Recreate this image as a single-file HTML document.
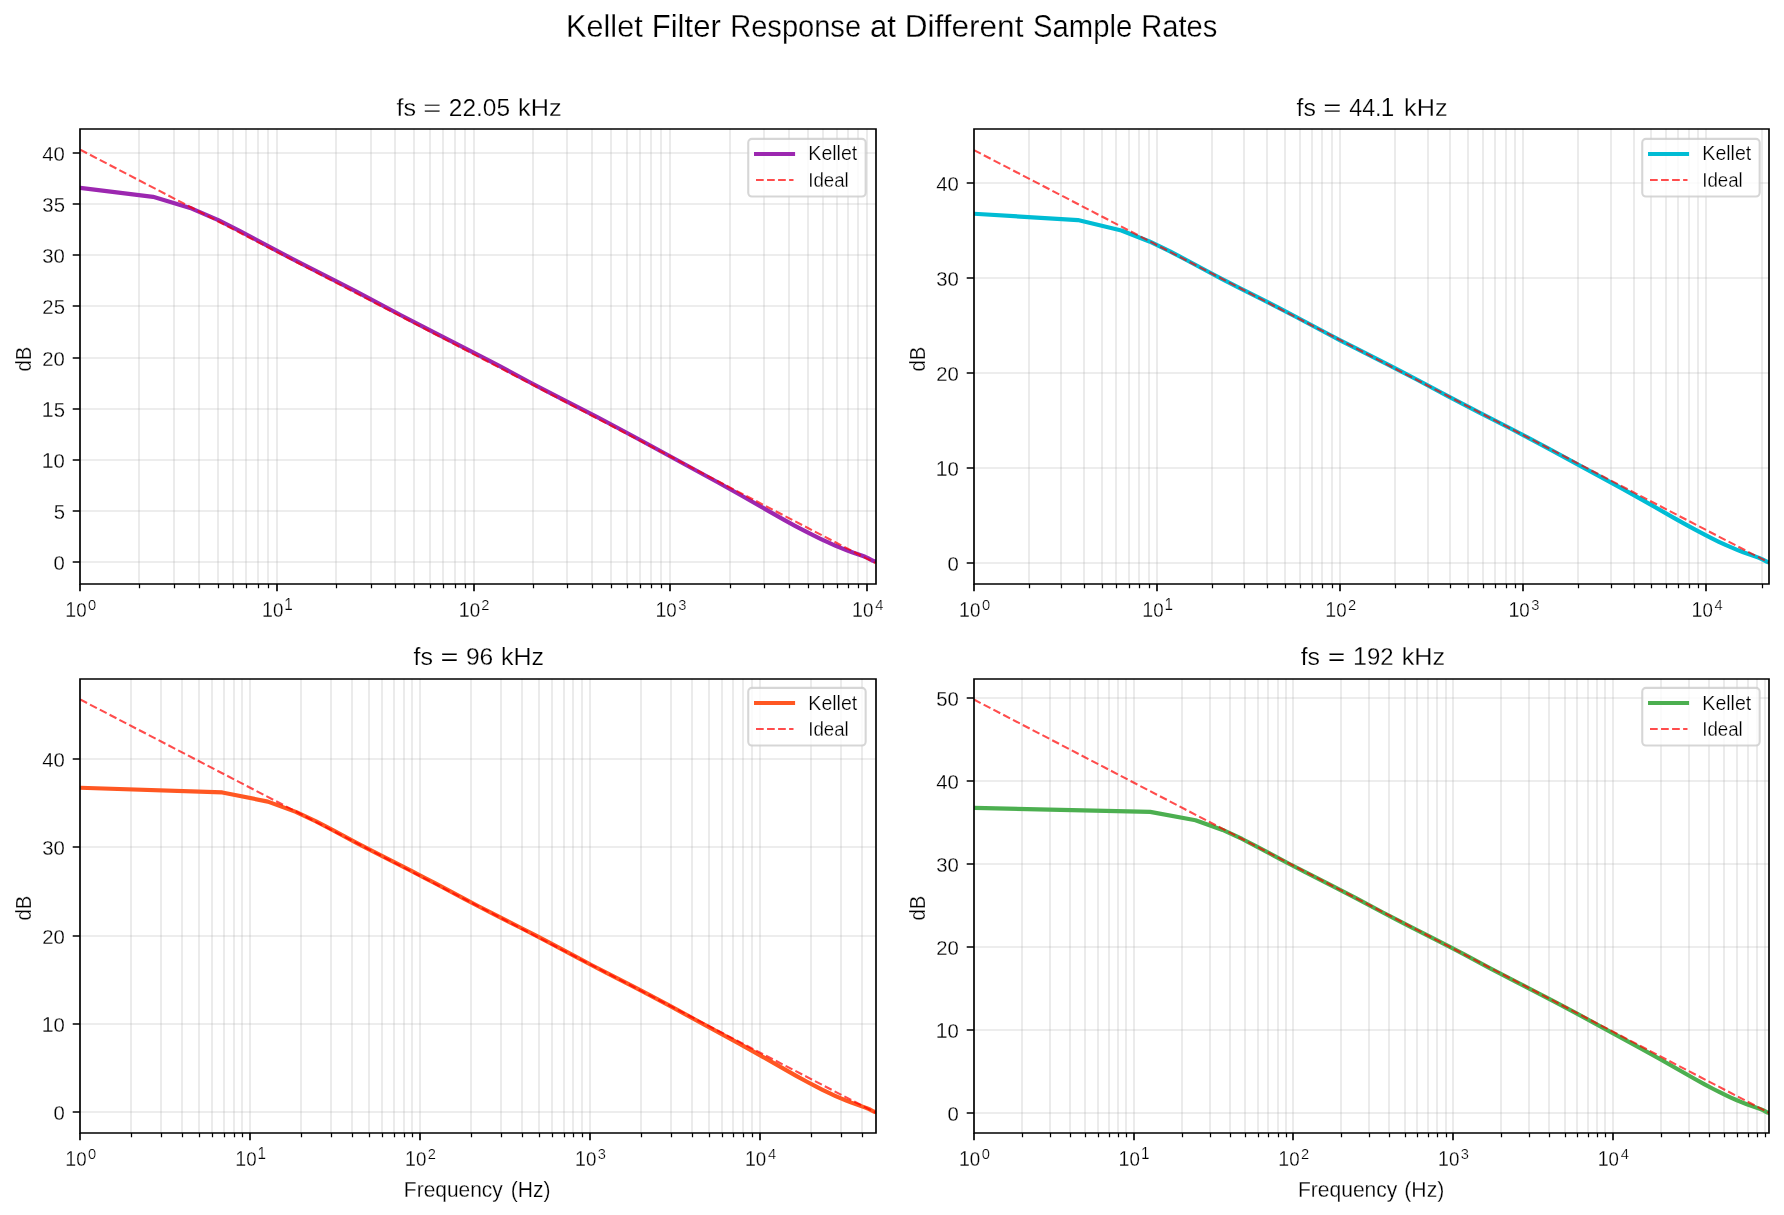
<!DOCTYPE html><html><head><meta charset="utf-8"><title>Kellet Filter Response at Different Sample Rates</title><style>html,body{margin:0;padding:0;background:#fff;overflow:hidden}svg{display:block;will-change:transform}text{font-family:"Liberation Sans",sans-serif}</style></head><body>
<svg width="1784" height="1215" viewBox="0 0 1784 1215">
<rect width="1784" height="1215" fill="#fff"/>
<g transform="translate(566.074 36.900) scale(1.00073 1)" fill="#000" stroke="#fff" stroke-width="0.25"><text x="0.000" y="0" font-size="30.600">Kellet</text></g><g transform="translate(651.738 36.900) scale(1.01499 1)" fill="#000" stroke="#fff" stroke-width="0.25"><text x="0.000" y="0" font-size="30.600">Filter</text></g><g transform="translate(730.201 36.900) scale(0.95034 1)" fill="#000" stroke="#fff" stroke-width="0.25"><text x="0.000" y="0" font-size="30.600">Response</text></g><g transform="translate(869.975 36.900) scale(1.01902 1)" fill="#000" stroke="#fff" stroke-width="0.25"><text x="0.000" y="0" font-size="30.600">at</text></g><g transform="translate(904.695 36.900) scale(1.03204 1)" fill="#000" stroke="#fff" stroke-width="0.25"><text x="0.000" y="0" font-size="30.600">Different</text></g><g transform="translate(1032.982 36.900) scale(0.95689 1)" fill="#000" stroke="#fff" stroke-width="0.25"><text x="0.000" y="0" font-size="30.600">Sample</text></g><g transform="translate(1141.296 36.900) scale(0.95223 1)" fill="#000" stroke="#fff" stroke-width="0.25"><text x="0.000" y="0" font-size="30.600">Rates</text></g>
<defs><clipPath id="c0"><rect x="80" y="129" width="796" height="455"/></clipPath></defs>
<g stroke="#b0b0b0" stroke-opacity="0.3" stroke-width="1.67" fill="none"><path d="M139 129 V584"/><path d="M174 129 V584"/><path d="M199 129 V584"/><path d="M218 129 V584"/><path d="M233 129 V584"/><path d="M246 129 V584"/><path d="M258 129 V584"/><path d="M268 129 V584"/><path d="M336 129 V584"/><path d="M371 129 V584"/><path d="M395 129 V584"/><path d="M414 129 V584"/><path d="M430 129 V584"/><path d="M443 129 V584"/><path d="M455 129 V584"/><path d="M465 129 V584"/><path d="M533 129 V584"/><path d="M567 129 V584"/><path d="M592 129 V584"/><path d="M611 129 V584"/><path d="M627 129 V584"/><path d="M640 129 V584"/><path d="M651 129 V584"/><path d="M661 129 V584"/><path d="M730 129 V584"/><path d="M764 129 V584"/><path d="M789 129 V584"/><path d="M808 129 V584"/><path d="M823 129 V584"/><path d="M837 129 V584"/><path d="M848 129 V584"/><path d="M858 129 V584"/><path d="M80 129 V584"/><path d="M277 129 V584"/><path d="M474 129 V584"/><path d="M670 129 V584"/><path d="M867 129 V584"/><path d="M80 562 H876"/><path d="M80 511 H876"/><path d="M80 460 H876"/><path d="M80 409 H876"/><path d="M80 358 H876"/><path d="M80 306 H876"/><path d="M80 255 H876"/><path d="M80 204 H876"/><path d="M80 153 H876"/></g>
<g clip-path="url(#c0)"><path d="M80.20 187.87 L153.04 196.83 L191.77 208.56 L218.33 220.11 L238.55 230.32 L268.61 246.37 L280.42 252.64 L290.80 258.06 L308.40 267.08 L335.44 280.78 L355.94 291.37 L368.63 298.05 L400.95 315.26 L417.97 324.20 L434.01 332.44 L468.19 349.79 L482.79 357.32 L498.75 365.71 L531.15 382.99 L546.65 391.17 L562.66 399.47 L597.73 417.47 L616.92 427.51 L638.78 439.26 L718.14 482.48 L740.03 494.70 L772.25 513.11 L783.23 519.32 L794.98 525.80 L805.59 531.43 L813.45 535.44 L820.97 539.11 L828.18 542.48 L835.10 545.54 L841.33 548.13 L847.38 550.49 L852.77 552.45 L861.61 555.51 L864.39 556.54 L866.26 557.31 L867.94 558.10 L873.03 560.79 L874.24 561.21 L875.34 561.35" fill="none" stroke="#9c27b0" stroke-width="4.17" stroke-linejoin="round" stroke-linecap="square"/>
<path d="M80.20 149.70 L875.34 563.03" fill="none" stroke="#f00" stroke-opacity="0.7" stroke-width="2.08" stroke-dasharray="7.71 3.33"/></g>
<path d="M80 129 H876 V584 H80 Z" stroke="#000" stroke-width="1.67" fill="none"/>
<path d="M80 562 H72.71 M80 511 H72.71 M80 460 H72.71 M80 409 H72.71 M80 358 H72.71 M80 306 H72.71 M80 255 H72.71 M80 204 H72.71 M80 153 H72.71 M80 584 V591.29 M277 584 V591.29 M474 584 V591.29 M670 584 V591.29 M867 584 V591.29" stroke="#000" stroke-width="1.67"/>
<path d="M139.5 584 V588.17 M174.5 584 V588.17 M199.5 584 V588.17 M218.5 584 V588.17 M233.5 584 V588.17 M246.5 584 V588.17 M258.5 584 V588.17 M268.5 584 V588.17 M336.5 584 V588.17 M371.5 584 V588.17 M395.5 584 V588.17 M414.5 584 V588.17 M430.5 584 V588.17 M443.5 584 V588.17 M455.5 584 V588.17 M465.5 584 V588.17 M533.5 584 V588.17 M567.5 584 V588.17 M592.5 584 V588.17 M611.5 584 V588.17 M627.5 584 V588.17 M640.5 584 V588.17 M651.5 584 V588.17 M661.5 584 V588.17 M730.5 584 V588.17 M764.5 584 V588.17 M789.5 584 V588.17 M808.5 584 V588.17 M823.5 584 V588.17 M837.5 584 V588.17 M848.5 584 V588.17 M858.5 584 V588.17" stroke="#000" stroke-width="1.25"/>
<g transform="translate(53.590 569.850) scale(0.97500 1)" fill="#000" stroke="#fff" stroke-width="0.25"><text x="0.000" y="0" font-size="20.830">0</text></g>
<g transform="translate(53.641 518.850) scale(0.97500 1)" fill="#000" stroke="#fff" stroke-width="0.25"><text x="0.000" y="0" font-size="20.830">5</text></g>
<g transform="translate(42.318 467.850) scale(0.97500 1)" fill="#000" stroke="#fff" stroke-width="0.25"><text x="-0.597" y="0" font-size="21.780" font-family="Liberation Mono, monospace">1</text><text x="11.585" y="0" font-size="20.830">0</text></g>
<g transform="translate(42.369 416.850) scale(0.97500 1)" fill="#000" stroke="#fff" stroke-width="0.25"><text x="-0.597" y="0" font-size="21.780" font-family="Liberation Mono, monospace">1</text><text x="11.585" y="0" font-size="20.830">5</text></g>
<g transform="translate(42.318 365.850) scale(0.97500 1)" fill="#000" stroke="#fff" stroke-width="0.25"><text x="0.000" y="0" font-size="20.830">20</text></g>
<g transform="translate(42.369 313.850) scale(0.97500 1)" fill="#000" stroke="#fff" stroke-width="0.25"><text x="0.000" y="0" font-size="20.830">25</text></g>
<g transform="translate(42.318 262.850) scale(0.97500 1)" fill="#000" stroke="#fff" stroke-width="0.25"><text x="0.000" y="0" font-size="20.830">30</text></g>
<g transform="translate(42.369 211.850) scale(0.97500 1)" fill="#000" stroke="#fff" stroke-width="0.25"><text x="0.000" y="0" font-size="20.830">35</text></g>
<g transform="translate(42.318 160.850) scale(0.97500 1)" fill="#000" stroke="#fff" stroke-width="0.25"><text x="0.000" y="0" font-size="20.830">40</text></g>
<g transform="translate(65.810 616.900) scale(0.89927 1)" fill="#000" stroke="#fff" stroke-width="0.25"><text x="-0.597" y="0" font-size="21.780" font-family="Liberation Mono, monospace">1</text><text x="11.585" y="0" font-size="20.830">0</text></g>
<g transform="translate(88.112 609.800) scale(0.97000 1)" fill="#000" stroke="#fff" stroke-width="0.25"><text x="0.000" y="0" font-size="15.162">0</text></g>
<g transform="translate(262.510 616.900) scale(0.89927 1)" fill="#000" stroke="#fff" stroke-width="0.25"><text x="-0.597" y="0" font-size="21.780" font-family="Liberation Mono, monospace">1</text><text x="11.585" y="0" font-size="20.830">0</text></g>
<g transform="translate(284.701 609.800) scale(0.97000 1)" fill="#000" stroke="#fff" stroke-width="0.25"><text x="-0.435" y="0" font-size="15.854" font-family="Liberation Mono, monospace">1</text></g>
<g transform="translate(459.210 616.900) scale(0.89927 1)" fill="#000" stroke="#fff" stroke-width="0.25"><text x="-0.597" y="0" font-size="21.780" font-family="Liberation Mono, monospace">1</text><text x="11.585" y="0" font-size="20.830">0</text></g>
<g transform="translate(481.365 609.800) scale(0.97000 1)" fill="#000" stroke="#fff" stroke-width="0.25"><text x="0.000" y="0" font-size="15.162">2</text></g>
<g transform="translate(655.910 616.900) scale(0.89927 1)" fill="#000" stroke="#fff" stroke-width="0.25"><text x="-0.597" y="0" font-size="21.780" font-family="Liberation Mono, monospace">1</text><text x="11.585" y="0" font-size="20.830">0</text></g>
<g transform="translate(678.248 609.800) scale(0.97000 1)" fill="#000" stroke="#fff" stroke-width="0.25"><text x="0.000" y="0" font-size="15.162">3</text></g>
<g transform="translate(852.610 616.900) scale(0.89927 1)" fill="#000" stroke="#fff" stroke-width="0.25"><text x="-0.597" y="0" font-size="21.780" font-family="Liberation Mono, monospace">1</text><text x="11.585" y="0" font-size="20.830">0</text></g>
<g transform="translate(875.169 609.800) scale(0.97000 1)" fill="#000" stroke="#fff" stroke-width="0.25"><text x="0.000" y="0" font-size="15.162">4</text></g>
<g transform="translate(396.523 116.000) scale(1.02255 1)" fill="#000" stroke="#fff" stroke-width="0.25"><text x="0.000" y="0" font-size="24.600">fs</text></g><g transform="translate(423.329 116.000) scale(1.25912 1)" fill="#000" stroke="#fff" stroke-width="0.25"><text x="0.000" y="0" font-size="24.600">=</text></g><g transform="translate(448.775 116.000) scale(0.99583 1)" fill="#000" stroke="#fff" stroke-width="0.25"><text x="0.000" y="0" font-size="24.600">22.05</text></g><g transform="translate(517.993 116.000) scale(1.02829 1)" fill="#000" stroke="#fff" stroke-width="0.25"><text x="0.000" y="0" font-size="24.600">kHz</text></g>
<g transform="translate(31.000 371.563) rotate(-90) scale(0.92320 1)" fill="#000" stroke="#fff" stroke-width="0.25"><text x="0.000" y="0" font-size="22.000">dB</text></g>
<rect x="748.25" y="138.90" width="117.40" height="57.65" rx="3.7" fill="#fff" fill-opacity="0.8" stroke="#ccc" stroke-opacity="0.8" stroke-width="2.08"/>
<path d="M756.10 154.00 H793.00" stroke="#9c27b0" stroke-width="4.17" stroke-linecap="square"/>
<path d="M756.00 180.00 H793.50" stroke="#f00" stroke-opacity="0.7" stroke-width="2.08" stroke-dasharray="7.71 3.33"/>
<g transform="translate(808.346 159.900) scale(1.01348 1)" fill="#000" stroke="#fff" stroke-width="0.25"><text x="0.000" y="0" font-size="19.300">Kellet</text></g>
<g transform="translate(808.232 186.850) scale(0.96770 1)" fill="#000" stroke="#fff" stroke-width="0.25"><text x="0.000" y="0" font-size="19.300">Ideal</text></g>
<defs><clipPath id="c1"><rect x="974" y="129" width="795" height="455"/></clipPath></defs>
<g stroke="#b0b0b0" stroke-opacity="0.3" stroke-width="1.67" fill="none"><path d="M1029 129 V584"/><path d="M1061 129 V584"/><path d="M1084 129 V584"/><path d="M1102 129 V584"/><path d="M1116 129 V584"/><path d="M1129 129 V584"/><path d="M1139 129 V584"/><path d="M1149 129 V584"/><path d="M1212 129 V584"/><path d="M1244 129 V584"/><path d="M1267 129 V584"/><path d="M1285 129 V584"/><path d="M1300 129 V584"/><path d="M1312 129 V584"/><path d="M1322 129 V584"/><path d="M1332 129 V584"/><path d="M1395 129 V584"/><path d="M1428 129 V584"/><path d="M1450 129 V584"/><path d="M1468 129 V584"/><path d="M1483 129 V584"/><path d="M1495 129 V584"/><path d="M1506 129 V584"/><path d="M1515 129 V584"/><path d="M1578 129 V584"/><path d="M1611 129 V584"/><path d="M1634 129 V584"/><path d="M1651 129 V584"/><path d="M1666 129 V584"/><path d="M1678 129 V584"/><path d="M1689 129 V584"/><path d="M1698 129 V584"/><path d="M1762 129 V584"/><path d="M974 129 V584"/><path d="M1157 129 V584"/><path d="M1340 129 V584"/><path d="M1523 129 V584"/><path d="M1706 129 V584"/><path d="M974 563 H1769"/><path d="M974 468 H1769"/><path d="M974 373 H1769"/><path d="M974 278 H1769"/><path d="M974 183 H1769"/></g>
<g clip-path="url(#c1)"><path d="M974.00 213.72 L1077.86 220.07 L1121.41 230.44 L1149.39 241.44 L1170.04 251.43 L1186.42 260.02 L1211.59 273.47 L1221.71 278.78 L1238.74 287.53 L1264.68 300.65 L1279.76 308.37 L1296.24 316.99 L1326.76 333.22 L1340.67 340.53 L1356.10 348.47 L1387.54 364.39 L1402.55 372.10 L1417.64 380.00 L1449.24 396.82 L1463.61 404.39 L1478.46 412.07 L1510.53 428.49 L1527.45 437.32 L1548.56 448.63 L1622.62 488.89 L1643.17 500.34 L1673.41 517.58 L1683.67 523.37 L1694.69 529.44 L1704.64 534.70 L1711.89 538.38 L1718.85 541.78 L1725.51 544.88 L1731.92 547.70 L1737.68 550.09 L1743.28 552.27 L1759.08 557.88 L1762.39 559.32 L1767.14 561.83 L1768.26 562.22 L1769.28 562.35" fill="none" stroke="#00bcd4" stroke-width="4.17" stroke-linejoin="round" stroke-linecap="square"/>
<path d="M974.00 150.14 L1769.28 562.76" fill="none" stroke="#f00" stroke-opacity="0.7" stroke-width="2.08" stroke-dasharray="7.71 3.33"/></g>
<path d="M974 129 H1769 V584 H974 Z" stroke="#000" stroke-width="1.67" fill="none"/>
<path d="M974 563 H966.71 M974 468 H966.71 M974 373 H966.71 M974 278 H966.71 M974 183 H966.71 M974 584 V591.29 M1157 584 V591.29 M1340 584 V591.29 M1523 584 V591.29 M1706 584 V591.29" stroke="#000" stroke-width="1.67"/>
<path d="M1029.5 584 V588.17 M1061.5 584 V588.17 M1084.5 584 V588.17 M1102.5 584 V588.17 M1116.5 584 V588.17 M1129.5 584 V588.17 M1139.5 584 V588.17 M1149.5 584 V588.17 M1212.5 584 V588.17 M1244.5 584 V588.17 M1267.5 584 V588.17 M1285.5 584 V588.17 M1300.5 584 V588.17 M1312.5 584 V588.17 M1322.5 584 V588.17 M1332.5 584 V588.17 M1395.5 584 V588.17 M1428.5 584 V588.17 M1450.5 584 V588.17 M1468.5 584 V588.17 M1483.5 584 V588.17 M1495.5 584 V588.17 M1506.5 584 V588.17 M1515.5 584 V588.17 M1578.5 584 V588.17 M1611.5 584 V588.17 M1634.5 584 V588.17 M1651.5 584 V588.17 M1666.5 584 V588.17 M1678.5 584 V588.17 M1689.5 584 V588.17 M1698.5 584 V588.17 M1762.5 584 V588.17" stroke="#000" stroke-width="1.25"/>
<g transform="translate(947.590 570.850) scale(0.97500 1)" fill="#000" stroke="#fff" stroke-width="0.25"><text x="0.000" y="0" font-size="20.830">0</text></g>
<g transform="translate(936.318 475.850) scale(0.97500 1)" fill="#000" stroke="#fff" stroke-width="0.25"><text x="-0.597" y="0" font-size="21.780" font-family="Liberation Mono, monospace">1</text><text x="11.585" y="0" font-size="20.830">0</text></g>
<g transform="translate(936.318 380.850) scale(0.97500 1)" fill="#000" stroke="#fff" stroke-width="0.25"><text x="0.000" y="0" font-size="20.830">20</text></g>
<g transform="translate(936.318 285.850) scale(0.97500 1)" fill="#000" stroke="#fff" stroke-width="0.25"><text x="0.000" y="0" font-size="20.830">30</text></g>
<g transform="translate(936.318 190.850) scale(0.97500 1)" fill="#000" stroke="#fff" stroke-width="0.25"><text x="0.000" y="0" font-size="20.830">40</text></g>
<g transform="translate(959.610 616.900) scale(0.89927 1)" fill="#000" stroke="#fff" stroke-width="0.25"><text x="-0.597" y="0" font-size="21.780" font-family="Liberation Mono, monospace">1</text><text x="11.585" y="0" font-size="20.830">0</text></g>
<g transform="translate(981.912 609.800) scale(0.97000 1)" fill="#000" stroke="#fff" stroke-width="0.25"><text x="0.000" y="0" font-size="15.162">0</text></g>
<g transform="translate(1142.710 616.900) scale(0.89927 1)" fill="#000" stroke="#fff" stroke-width="0.25"><text x="-0.597" y="0" font-size="21.780" font-family="Liberation Mono, monospace">1</text><text x="11.585" y="0" font-size="20.830">0</text></g>
<g transform="translate(1164.901 609.800) scale(0.97000 1)" fill="#000" stroke="#fff" stroke-width="0.25"><text x="-0.435" y="0" font-size="15.854" font-family="Liberation Mono, monospace">1</text></g>
<g transform="translate(1325.810 616.900) scale(0.89927 1)" fill="#000" stroke="#fff" stroke-width="0.25"><text x="-0.597" y="0" font-size="21.780" font-family="Liberation Mono, monospace">1</text><text x="11.585" y="0" font-size="20.830">0</text></g>
<g transform="translate(1347.965 609.800) scale(0.97000 1)" fill="#000" stroke="#fff" stroke-width="0.25"><text x="0.000" y="0" font-size="15.162">2</text></g>
<g transform="translate(1508.910 616.900) scale(0.89927 1)" fill="#000" stroke="#fff" stroke-width="0.25"><text x="-0.597" y="0" font-size="21.780" font-family="Liberation Mono, monospace">1</text><text x="11.585" y="0" font-size="20.830">0</text></g>
<g transform="translate(1531.248 609.800) scale(0.97000 1)" fill="#000" stroke="#fff" stroke-width="0.25"><text x="0.000" y="0" font-size="15.162">3</text></g>
<g transform="translate(1692.010 616.900) scale(0.89927 1)" fill="#000" stroke="#fff" stroke-width="0.25"><text x="-0.597" y="0" font-size="21.780" font-family="Liberation Mono, monospace">1</text><text x="11.585" y="0" font-size="20.830">0</text></g>
<g transform="translate(1714.569 609.800) scale(0.97000 1)" fill="#000" stroke="#fff" stroke-width="0.25"><text x="0.000" y="0" font-size="15.162">4</text></g>
<g transform="translate(1296.527 115.900) scale(1.01137 1)" fill="#000" stroke="#fff" stroke-width="0.25"><text x="0.000" y="0" font-size="24.600">fs</text></g><g transform="translate(1323.319 115.900) scale(1.26746 1)" fill="#000" stroke="#fff" stroke-width="0.25"><text x="0.000" y="0" font-size="24.600">=</text></g><g transform="translate(1349.278 115.900) scale(0.94339 1)" fill="#000" stroke="#fff" stroke-width="0.25"><text x="0.000" y="0" font-size="24.600">44.</text><text x="33.493" y="0" font-size="25.722" font-family="Liberation Mono, monospace">1</text></g><g transform="translate(1404.097 115.900) scale(1.02576 1)" fill="#000" stroke="#fff" stroke-width="0.25"><text x="0.000" y="0" font-size="24.600">kHz</text></g>
<g transform="translate(924.900 371.563) rotate(-90) scale(0.92320 1)" fill="#000" stroke="#fff" stroke-width="0.25"><text x="0.000" y="0" font-size="22.000">dB</text></g>
<rect x="1642.25" y="138.90" width="117.40" height="57.65" rx="3.7" fill="#fff" fill-opacity="0.8" stroke="#ccc" stroke-opacity="0.8" stroke-width="2.08"/>
<path d="M1650.10 154.00 H1687.00" stroke="#00bcd4" stroke-width="4.17" stroke-linecap="square"/>
<path d="M1650.00 180.00 H1687.50" stroke="#f00" stroke-opacity="0.7" stroke-width="2.08" stroke-dasharray="7.71 3.33"/>
<g transform="translate(1702.346 159.900) scale(1.01348 1)" fill="#000" stroke="#fff" stroke-width="0.25"><text x="0.000" y="0" font-size="19.300">Kellet</text></g>
<g transform="translate(1702.232 186.850) scale(0.96770 1)" fill="#000" stroke="#fff" stroke-width="0.25"><text x="0.000" y="0" font-size="19.300">Ideal</text></g>
<defs><clipPath id="c2"><rect x="80" y="679" width="796" height="454"/></clipPath></defs>
<g stroke="#b0b0b0" stroke-opacity="0.3" stroke-width="1.67" fill="none"><path d="M131 679 V1133"/><path d="M161 679 V1133"/><path d="M182 679 V1133"/><path d="M199 679 V1133"/><path d="M212 679 V1133"/><path d="M224 679 V1133"/><path d="M234 679 V1133"/><path d="M242 679 V1133"/><path d="M301 679 V1133"/><path d="M331 679 V1133"/><path d="M352 679 V1133"/><path d="M369 679 V1133"/><path d="M382 679 V1133"/><path d="M394 679 V1133"/><path d="M404 679 V1133"/><path d="M412 679 V1133"/><path d="M471 679 V1133"/><path d="M501 679 V1133"/><path d="M522 679 V1133"/><path d="M539 679 V1133"/><path d="M552 679 V1133"/><path d="M564 679 V1133"/><path d="M573 679 V1133"/><path d="M582 679 V1133"/><path d="M641 679 V1133"/><path d="M671 679 V1133"/><path d="M692 679 V1133"/><path d="M709 679 V1133"/><path d="M722 679 V1133"/><path d="M733 679 V1133"/><path d="M743 679 V1133"/><path d="M752 679 V1133"/><path d="M811 679 V1133"/><path d="M841 679 V1133"/><path d="M862 679 V1133"/><path d="M80 679 V1133"/><path d="M250 679 V1133"/><path d="M420 679 V1133"/><path d="M590 679 V1133"/><path d="M760 679 V1133"/><path d="M80 1112 H876"/><path d="M80 1024 H876"/><path d="M80 936 H876"/><path d="M80 847 H876"/><path d="M80 759 H876"/></g>
<g clip-path="url(#c2)"><path d="M80.20 787.73 L222.29 792.43 L267.85 801.62 L295.81 811.89 L316.04 821.41 L331.90 829.66 L356.02 842.56 L365.66 847.64 L381.81 855.97 L411.32 870.93 L424.63 877.79 L435.91 883.71 L464.45 898.90 L477.44 905.73 L491.83 913.15 L521.10 928.00 L535.07 935.18 L549.85 942.93 L578.48 958.18 L591.83 965.22 L605.62 972.37 L634.93 987.39 L650.16 995.34 L670.42 1006.19 L739.22 1043.63 L758.43 1054.34 L796.21 1075.85 L806.49 1081.51 L815.78 1086.43 L822.47 1089.83 L828.88 1092.95 L835.04 1095.82 L840.94 1098.42 L846.28 1100.63 L851.46 1102.65 L866.08 1107.85 L869.15 1109.19 L873.56 1111.52 L874.60 1111.88 L875.54 1112.00" fill="none" stroke="#ff5722" stroke-width="4.17" stroke-linejoin="round" stroke-linecap="square"/>
<path d="M80.20 699.46 L875.54 1112.58" fill="none" stroke="#f00" stroke-opacity="0.7" stroke-width="2.08" stroke-dasharray="7.71 3.33"/></g>
<path d="M80 679 H876 V1133 H80 Z" stroke="#000" stroke-width="1.67" fill="none"/>
<path d="M80 1112 H72.71 M80 1024 H72.71 M80 936 H72.71 M80 847 H72.71 M80 759 H72.71 M80 1133 V1140.29 M250 1133 V1140.29 M420 1133 V1140.29 M590 1133 V1140.29 M760 1133 V1140.29" stroke="#000" stroke-width="1.67"/>
<path d="M131.5 1133 V1137.17 M161.5 1133 V1137.17 M182.5 1133 V1137.17 M199.5 1133 V1137.17 M212.5 1133 V1137.17 M224.5 1133 V1137.17 M234.5 1133 V1137.17 M242.5 1133 V1137.17 M301.5 1133 V1137.17 M331.5 1133 V1137.17 M352.5 1133 V1137.17 M369.5 1133 V1137.17 M382.5 1133 V1137.17 M394.5 1133 V1137.17 M404.5 1133 V1137.17 M412.5 1133 V1137.17 M471.5 1133 V1137.17 M501.5 1133 V1137.17 M522.5 1133 V1137.17 M539.5 1133 V1137.17 M552.5 1133 V1137.17 M564.5 1133 V1137.17 M573.5 1133 V1137.17 M582.5 1133 V1137.17 M641.5 1133 V1137.17 M671.5 1133 V1137.17 M692.5 1133 V1137.17 M709.5 1133 V1137.17 M722.5 1133 V1137.17 M733.5 1133 V1137.17 M743.5 1133 V1137.17 M752.5 1133 V1137.17 M811.5 1133 V1137.17 M841.5 1133 V1137.17 M862.5 1133 V1137.17" stroke="#000" stroke-width="1.25"/>
<g transform="translate(53.590 1119.850) scale(0.97500 1)" fill="#000" stroke="#fff" stroke-width="0.25"><text x="0.000" y="0" font-size="20.830">0</text></g>
<g transform="translate(42.318 1031.850) scale(0.97500 1)" fill="#000" stroke="#fff" stroke-width="0.25"><text x="-0.597" y="0" font-size="21.780" font-family="Liberation Mono, monospace">1</text><text x="11.585" y="0" font-size="20.830">0</text></g>
<g transform="translate(42.318 943.850) scale(0.97500 1)" fill="#000" stroke="#fff" stroke-width="0.25"><text x="0.000" y="0" font-size="20.830">20</text></g>
<g transform="translate(42.318 854.850) scale(0.97500 1)" fill="#000" stroke="#fff" stroke-width="0.25"><text x="0.000" y="0" font-size="20.830">30</text></g>
<g transform="translate(42.318 766.850) scale(0.97500 1)" fill="#000" stroke="#fff" stroke-width="0.25"><text x="0.000" y="0" font-size="20.830">40</text></g>
<g transform="translate(65.810 1165.900) scale(0.89927 1)" fill="#000" stroke="#fff" stroke-width="0.25"><text x="-0.597" y="0" font-size="21.780" font-family="Liberation Mono, monospace">1</text><text x="11.585" y="0" font-size="20.830">0</text></g>
<g transform="translate(88.112 1158.800) scale(0.97000 1)" fill="#000" stroke="#fff" stroke-width="0.25"><text x="0.000" y="0" font-size="15.162">0</text></g>
<g transform="translate(235.710 1165.900) scale(0.89927 1)" fill="#000" stroke="#fff" stroke-width="0.25"><text x="-0.597" y="0" font-size="21.780" font-family="Liberation Mono, monospace">1</text><text x="11.585" y="0" font-size="20.830">0</text></g>
<g transform="translate(257.901 1158.800) scale(0.97000 1)" fill="#000" stroke="#fff" stroke-width="0.25"><text x="-0.435" y="0" font-size="15.854" font-family="Liberation Mono, monospace">1</text></g>
<g transform="translate(405.610 1165.900) scale(0.89927 1)" fill="#000" stroke="#fff" stroke-width="0.25"><text x="-0.597" y="0" font-size="21.780" font-family="Liberation Mono, monospace">1</text><text x="11.585" y="0" font-size="20.830">0</text></g>
<g transform="translate(427.765 1158.800) scale(0.97000 1)" fill="#000" stroke="#fff" stroke-width="0.25"><text x="0.000" y="0" font-size="15.162">2</text></g>
<g transform="translate(575.510 1165.900) scale(0.89927 1)" fill="#000" stroke="#fff" stroke-width="0.25"><text x="-0.597" y="0" font-size="21.780" font-family="Liberation Mono, monospace">1</text><text x="11.585" y="0" font-size="20.830">0</text></g>
<g transform="translate(597.848 1158.800) scale(0.97000 1)" fill="#000" stroke="#fff" stroke-width="0.25"><text x="0.000" y="0" font-size="15.162">3</text></g>
<g transform="translate(745.410 1165.900) scale(0.89927 1)" fill="#000" stroke="#fff" stroke-width="0.25"><text x="-0.597" y="0" font-size="21.780" font-family="Liberation Mono, monospace">1</text><text x="11.585" y="0" font-size="20.830">0</text></g>
<g transform="translate(767.969 1158.800) scale(0.97000 1)" fill="#000" stroke="#fff" stroke-width="0.25"><text x="0.000" y="0" font-size="15.162">4</text></g>
<g transform="translate(413.525 664.900) scale(1.01696 1)" fill="#000" stroke="#fff" stroke-width="0.25"><text x="0.000" y="0" font-size="24.600">fs</text></g><g transform="translate(440.538 664.900) scale(1.25078 1)" fill="#000" stroke="#fff" stroke-width="0.25"><text x="0.000" y="0" font-size="24.600">=</text></g><g transform="translate(465.931 664.900) scale(1.00032 1)" fill="#000" stroke="#fff" stroke-width="0.25"><text x="0.000" y="0" font-size="24.600">96</text></g><g transform="translate(501.014 664.900) scale(1.01563 1)" fill="#000" stroke="#fff" stroke-width="0.25"><text x="0.000" y="0" font-size="24.600">kHz</text></g>
<g transform="translate(31.000 920.563) rotate(-90) scale(0.92320 1)" fill="#000" stroke="#fff" stroke-width="0.25"><text x="0.000" y="0" font-size="22.000">dB</text></g>
<g transform="translate(403.872 1197.000) scale(0.95219 1)" fill="#000" stroke="#fff" stroke-width="0.25"><text x="0.000" y="0" font-size="22.000">Frequency</text></g><g transform="translate(510.679 1197.000) scale(0.96060 1)" fill="#000" stroke="#fff" stroke-width="0.25"><text x="0.000" y="0" font-size="22.000">(Hz)</text></g>
<rect x="748.25" y="687.90" width="117.40" height="57.65" rx="3.7" fill="#fff" fill-opacity="0.8" stroke="#ccc" stroke-opacity="0.8" stroke-width="2.08"/>
<path d="M756.10 703.00 H793.00" stroke="#ff5722" stroke-width="4.17" stroke-linecap="square"/>
<path d="M756.00 729.00 H793.50" stroke="#f00" stroke-opacity="0.7" stroke-width="2.08" stroke-dasharray="7.71 3.33"/>
<g transform="translate(808.346 709.900) scale(1.01348 1)" fill="#000" stroke="#fff" stroke-width="0.25"><text x="0.000" y="0" font-size="19.300">Kellet</text></g>
<g transform="translate(808.232 735.800) scale(0.96770 1)" fill="#000" stroke="#fff" stroke-width="0.25"><text x="0.000" y="0" font-size="19.300">Ideal</text></g>
<defs><clipPath id="c3"><rect x="974" y="679" width="795" height="454"/></clipPath></defs>
<g stroke="#b0b0b0" stroke-opacity="0.3" stroke-width="1.67" fill="none"><path d="M1022 679 V1133"/><path d="M1050 679 V1133"/><path d="M1070 679 V1133"/><path d="M1085 679 V1133"/><path d="M1098 679 V1133"/><path d="M1109 679 V1133"/><path d="M1118 679 V1133"/><path d="M1126 679 V1133"/><path d="M1182 679 V1133"/><path d="M1210 679 V1133"/><path d="M1230 679 V1133"/><path d="M1245 679 V1133"/><path d="M1258 679 V1133"/><path d="M1268 679 V1133"/><path d="M1278 679 V1133"/><path d="M1286 679 V1133"/><path d="M1341 679 V1133"/><path d="M1369 679 V1133"/><path d="M1389 679 V1133"/><path d="M1405 679 V1133"/><path d="M1417 679 V1133"/><path d="M1428 679 V1133"/><path d="M1437 679 V1133"/><path d="M1446 679 V1133"/><path d="M1501 679 V1133"/><path d="M1529 679 V1133"/><path d="M1549 679 V1133"/><path d="M1565 679 V1133"/><path d="M1577 679 V1133"/><path d="M1588 679 V1133"/><path d="M1597 679 V1133"/><path d="M1605 679 V1133"/><path d="M1661 679 V1133"/><path d="M1689 679 V1133"/><path d="M1709 679 V1133"/><path d="M1724 679 V1133"/><path d="M1737 679 V1133"/><path d="M1748 679 V1133"/><path d="M1757 679 V1133"/><path d="M1765 679 V1133"/><path d="M974 679 V1133"/><path d="M1134 679 V1133"/><path d="M1293 679 V1133"/><path d="M1453 679 V1133"/><path d="M1613 679 V1133"/><path d="M974 1113 H1769"/><path d="M974 1030 H1769"/><path d="M974 947 H1769"/><path d="M974 864 H1769"/><path d="M974 781 H1769"/><path d="M974 698 H1769"/></g>
<g clip-path="url(#c3)"><path d="M973.83 807.95 L1150.21 811.85 L1195.50 820.27 L1222.66 829.93 L1242.13 838.98 L1257.32 846.84 L1280.32 859.15 L1289.48 863.99 L1304.81 871.91 L1332.73 886.07 L1345.31 892.55 L1355.95 898.14 L1382.87 912.48 L1395.11 918.92 L1408.66 925.91 L1436.22 939.90 L1449.37 946.66 L1463.27 953.95 L1490.19 968.31 L1502.75 974.93 L1515.72 981.66 L1543.28 995.79 L1557.23 1003.08 L1576.50 1013.40 L1641.21 1048.64 L1659.33 1058.75 L1694.91 1079.01 L1704.61 1084.36 L1713.37 1089.00 L1719.64 1092.18 L1725.65 1095.12 L1731.43 1097.80 L1736.97 1100.25 L1741.97 1102.32 L1746.82 1104.21 L1760.55 1109.09 L1763.44 1110.35 L1767.59 1112.55 L1768.56 1112.89 L1769.45 1113.00" fill="none" stroke="#4caf50" stroke-width="4.17" stroke-linejoin="round" stroke-linecap="square"/>
<path d="M973.83 699.50 L1769.45 1113.03" fill="none" stroke="#f00" stroke-opacity="0.7" stroke-width="2.08" stroke-dasharray="7.71 3.33"/></g>
<path d="M974 679 H1769 V1133 H974 Z" stroke="#000" stroke-width="1.67" fill="none"/>
<path d="M974 1113 H966.71 M974 1030 H966.71 M974 947 H966.71 M974 864 H966.71 M974 781 H966.71 M974 698 H966.71 M974 1133 V1140.29 M1134 1133 V1140.29 M1293 1133 V1140.29 M1453 1133 V1140.29 M1613 1133 V1140.29" stroke="#000" stroke-width="1.67"/>
<path d="M1022.5 1133 V1137.17 M1050.5 1133 V1137.17 M1070.5 1133 V1137.17 M1085.5 1133 V1137.17 M1098.5 1133 V1137.17 M1109.5 1133 V1137.17 M1118.5 1133 V1137.17 M1126.5 1133 V1137.17 M1182.5 1133 V1137.17 M1210.5 1133 V1137.17 M1230.5 1133 V1137.17 M1245.5 1133 V1137.17 M1258.5 1133 V1137.17 M1268.5 1133 V1137.17 M1278.5 1133 V1137.17 M1286.5 1133 V1137.17 M1341.5 1133 V1137.17 M1369.5 1133 V1137.17 M1389.5 1133 V1137.17 M1405.5 1133 V1137.17 M1417.5 1133 V1137.17 M1428.5 1133 V1137.17 M1437.5 1133 V1137.17 M1446.5 1133 V1137.17 M1501.5 1133 V1137.17 M1529.5 1133 V1137.17 M1549.5 1133 V1137.17 M1565.5 1133 V1137.17 M1577.5 1133 V1137.17 M1588.5 1133 V1137.17 M1597.5 1133 V1137.17 M1605.5 1133 V1137.17 M1661.5 1133 V1137.17 M1689.5 1133 V1137.17 M1709.5 1133 V1137.17 M1724.5 1133 V1137.17 M1737.5 1133 V1137.17 M1748.5 1133 V1137.17 M1757.5 1133 V1137.17 M1765.5 1133 V1137.17" stroke="#000" stroke-width="1.25"/>
<g transform="translate(947.590 1120.850) scale(0.97500 1)" fill="#000" stroke="#fff" stroke-width="0.25"><text x="0.000" y="0" font-size="20.830">0</text></g>
<g transform="translate(936.318 1037.850) scale(0.97500 1)" fill="#000" stroke="#fff" stroke-width="0.25"><text x="-0.597" y="0" font-size="21.780" font-family="Liberation Mono, monospace">1</text><text x="11.585" y="0" font-size="20.830">0</text></g>
<g transform="translate(936.318 954.850) scale(0.97500 1)" fill="#000" stroke="#fff" stroke-width="0.25"><text x="0.000" y="0" font-size="20.830">20</text></g>
<g transform="translate(936.318 871.850) scale(0.97500 1)" fill="#000" stroke="#fff" stroke-width="0.25"><text x="0.000" y="0" font-size="20.830">30</text></g>
<g transform="translate(936.318 788.850) scale(0.97500 1)" fill="#000" stroke="#fff" stroke-width="0.25"><text x="0.000" y="0" font-size="20.830">40</text></g>
<g transform="translate(936.318 705.850) scale(0.97500 1)" fill="#000" stroke="#fff" stroke-width="0.25"><text x="0.000" y="0" font-size="20.830">50</text></g>
<g transform="translate(959.440 1165.900) scale(0.89927 1)" fill="#000" stroke="#fff" stroke-width="0.25"><text x="-0.597" y="0" font-size="21.780" font-family="Liberation Mono, monospace">1</text><text x="11.585" y="0" font-size="20.830">0</text></g>
<g transform="translate(981.742 1158.800) scale(0.97000 1)" fill="#000" stroke="#fff" stroke-width="0.25"><text x="0.000" y="0" font-size="15.162">0</text></g>
<g transform="translate(1119.130 1165.900) scale(0.89927 1)" fill="#000" stroke="#fff" stroke-width="0.25"><text x="-0.597" y="0" font-size="21.780" font-family="Liberation Mono, monospace">1</text><text x="11.585" y="0" font-size="20.830">0</text></g>
<g transform="translate(1141.321 1158.800) scale(0.97000 1)" fill="#000" stroke="#fff" stroke-width="0.25"><text x="-0.435" y="0" font-size="15.854" font-family="Liberation Mono, monospace">1</text></g>
<g transform="translate(1278.820 1165.900) scale(0.89927 1)" fill="#000" stroke="#fff" stroke-width="0.25"><text x="-0.597" y="0" font-size="21.780" font-family="Liberation Mono, monospace">1</text><text x="11.585" y="0" font-size="20.830">0</text></g>
<g transform="translate(1300.975 1158.800) scale(0.97000 1)" fill="#000" stroke="#fff" stroke-width="0.25"><text x="0.000" y="0" font-size="15.162">2</text></g>
<g transform="translate(1438.510 1165.900) scale(0.89927 1)" fill="#000" stroke="#fff" stroke-width="0.25"><text x="-0.597" y="0" font-size="21.780" font-family="Liberation Mono, monospace">1</text><text x="11.585" y="0" font-size="20.830">0</text></g>
<g transform="translate(1460.848 1158.800) scale(0.97000 1)" fill="#000" stroke="#fff" stroke-width="0.25"><text x="0.000" y="0" font-size="15.162">3</text></g>
<g transform="translate(1598.200 1165.900) scale(0.89927 1)" fill="#000" stroke="#fff" stroke-width="0.25"><text x="-0.597" y="0" font-size="21.780" font-family="Liberation Mono, monospace">1</text><text x="11.585" y="0" font-size="20.830">0</text></g>
<g transform="translate(1620.759 1158.800) scale(0.97000 1)" fill="#000" stroke="#fff" stroke-width="0.25"><text x="0.000" y="0" font-size="15.162">4</text></g>
<g transform="translate(1300.627 665.000) scale(1.01137 1)" fill="#000" stroke="#fff" stroke-width="0.25"><text x="0.000" y="0" font-size="24.600">fs</text></g><g transform="translate(1327.668 665.000) scale(1.22577 1)" fill="#000" stroke="#fff" stroke-width="0.25"><text x="0.000" y="0" font-size="24.600">=</text></g><g transform="translate(1353.662 665.000) scale(0.97354 1)" fill="#000" stroke="#fff" stroke-width="0.25"><text x="-0.705" y="0" font-size="25.722" font-family="Liberation Mono, monospace">1</text><text x="13.682" y="0" font-size="24.600">92</text></g><g transform="translate(1401.697 665.000) scale(1.02576 1)" fill="#000" stroke="#fff" stroke-width="0.25"><text x="0.000" y="0" font-size="24.600">kHz</text></g>
<g transform="translate(924.900 920.563) rotate(-90) scale(0.92320 1)" fill="#000" stroke="#fff" stroke-width="0.25"><text x="0.000" y="0" font-size="22.000">dB</text></g>
<g transform="translate(1297.965 1197.000) scale(0.95611 1)" fill="#000" stroke="#fff" stroke-width="0.25"><text x="0.000" y="0" font-size="22.000">Frequency</text></g><g transform="translate(1404.272 1197.000) scale(0.96575 1)" fill="#000" stroke="#fff" stroke-width="0.25"><text x="0.000" y="0" font-size="22.000">(Hz)</text></g>
<rect x="1642.25" y="687.90" width="117.40" height="57.65" rx="3.7" fill="#fff" fill-opacity="0.8" stroke="#ccc" stroke-opacity="0.8" stroke-width="2.08"/>
<path d="M1650.10 703.00 H1687.00" stroke="#4caf50" stroke-width="4.17" stroke-linecap="square"/>
<path d="M1650.00 729.00 H1687.50" stroke="#f00" stroke-opacity="0.7" stroke-width="2.08" stroke-dasharray="7.71 3.33"/>
<g transform="translate(1702.346 709.900) scale(1.01348 1)" fill="#000" stroke="#fff" stroke-width="0.25"><text x="0.000" y="0" font-size="19.300">Kellet</text></g>
<g transform="translate(1702.232 735.800) scale(0.96770 1)" fill="#000" stroke="#fff" stroke-width="0.25"><text x="0.000" y="0" font-size="19.300">Ideal</text></g>
</svg></body></html>
